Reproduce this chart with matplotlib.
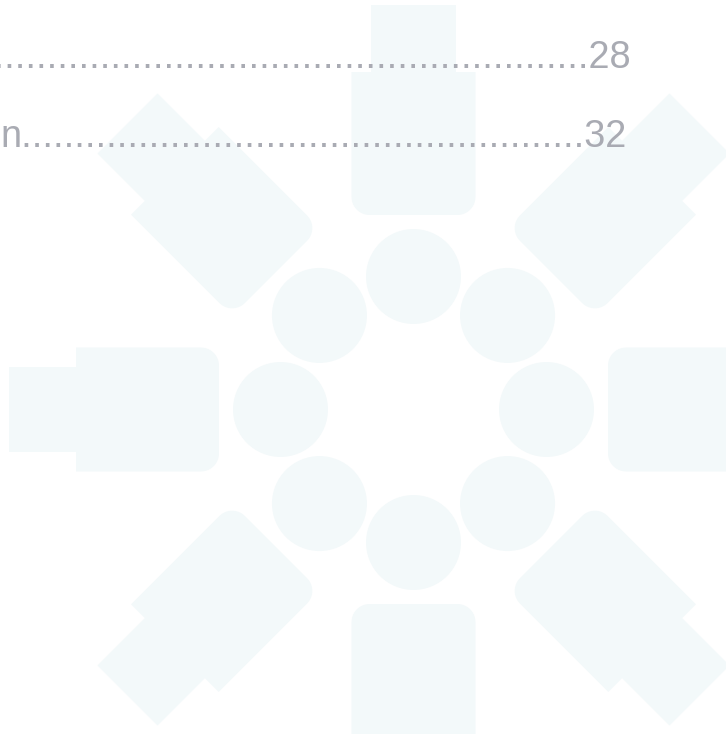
import numpy as np
import matplotlib.pyplot as plt
from matplotlib.patches import Polygon, Circle

# contents lines (only the right part is visible on the page)
toc_titles = ["", "n"]
toc_dots = [60, 53]
toc_pages = ["28", "32"]

# decorative emblem: 8 sticks and 8 circles around one centre
stick_angles = [0, 45, 90, 135, 180, 225, 270, 315]
circle_angles = [0, 45, 90, 135, 180, 225, 270, 315]

W, H = 726, 734
CX, CY = 413.5, 409.5
RING_R = 133.0
CIRCLE_R = 47.5
BODY_IN, BODY_OUT, CAP_OUT = 194.5, 337.5, 404.5
BODY_HW, CAP_HW, CORNER = 62.0, 42.5, 18.0

SHAPE_COLOR = "#f3f9fa"
TEXT_COLOR = "#a9abb3"


def stick_outline():
    """outline of one stick, local coords (u = along the ray, v = across)"""
    pts = []
    a = np.linspace(np.pi, 1.5 * np.pi, 12)
    pts += list(zip(BODY_IN + CORNER + CORNER * np.cos(a), -BODY_HW + CORNER + CORNER * np.sin(a)))
    pts += [(BODY_OUT, -BODY_HW), (BODY_OUT, -CAP_HW), (CAP_OUT, -CAP_HW),
            (CAP_OUT, CAP_HW), (BODY_OUT, CAP_HW), (BODY_OUT, BODY_HW)]
    a = np.linspace(0.5 * np.pi, np.pi, 12)
    pts += list(zip(BODY_IN + CORNER + CORNER * np.cos(a), BODY_HW - CORNER + CORNER * np.sin(a)))
    return np.array(pts)


def main():
    fig = plt.figure(figsize=(W / 100, H / 100), dpi=100)
    ax = fig.add_axes([0, 0, 1, 1])
    ax.set_xlim(0, W)
    ax.set_ylim(H, 0)
    ax.axis("off")

    base = stick_outline()
    for ang in stick_angles:
        t = np.deg2rad(ang)
        x = CX + base[:, 0] * np.cos(t) - base[:, 1] * np.sin(t)
        y = CY + base[:, 0] * np.sin(t) + base[:, 1] * np.cos(t)
        ax.add_patch(Polygon(np.column_stack([x, y]), closed=True,
                             facecolor=SHAPE_COLOR, edgecolor="none"))

    for ang in circle_angles:
        t = np.deg2rad(ang)
        ax.add_patch(Circle((CX + RING_R * np.cos(t), CY + RING_R * np.sin(t)),
                            CIRCLE_R, facecolor=SHAPE_COLOR, edgecolor="none"))

    # contents lines, right aligned to the page numbers
    line_x = [631.5, 626.5]
    line_y = [68, 147]
    for title, n, page, x, y in zip(toc_titles, toc_dots, toc_pages, line_x, line_y):
        ax.text(x, y, title + "." * n + page, ha="right", va="baseline",
                fontsize=27.4, family="Liberation Sans", color=TEXT_COLOR)

    fig.savefig("out.png", dpi=100)


if __name__ == "__main__":
    main()
